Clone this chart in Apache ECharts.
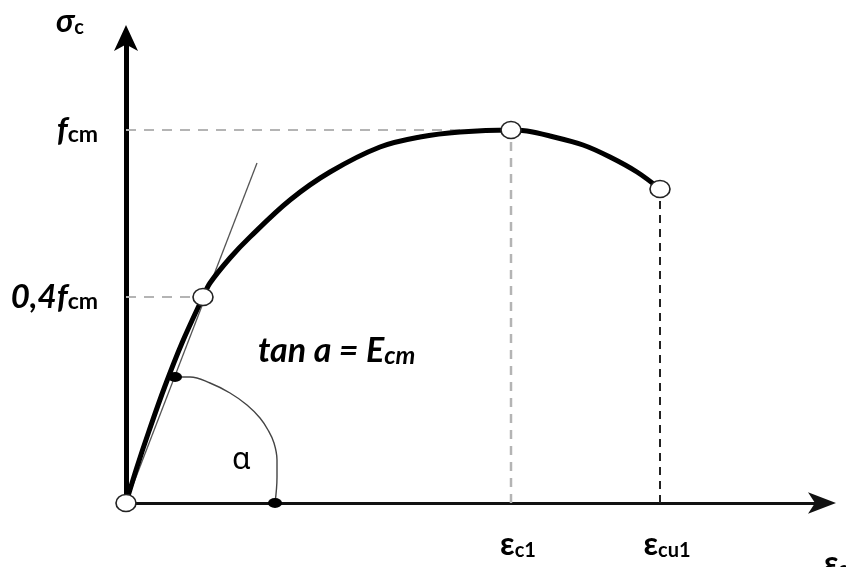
<!DOCTYPE html>
<html>
<head>
<meta charset="utf-8">
<script src="https://cdn.jsdelivr.net/npm/echarts@6/dist/echarts.min.js"></script>
<style>
  html, body { margin: 0; padding: 0; background: #fff; }
  #chart { width: 846px; height: 567px; }
</style>
</head>
<body>
<div id="chart"></div>
<script>
// Concrete stress–strain diagram (drawing units: strain on x, stress on y)
const curveStrain = [0, 0.11, 0.23, 0.39, 0.56, 0.77, 0.84, 1.04, 1.24, 1.64, 2.04, 2.54, 2.94, 3.34, 3.85, 4.01, 4.24, 4.57, 4.84, 5.11, 5.34];
const curveStress = [0, 0.36, 0.72, 1.17, 1.60, 2.06, 2.20, 2.45, 2.66, 3.03, 3.31, 3.56, 3.66, 3.71, 3.73, 3.72, 3.67, 3.58, 3.46, 3.31, 3.14];

// Characteristic points: origin, 0,4 f_cm, peak (eps_c1, f_cm), ultimate (eps_cu1)
const keyStrain = [0, 0.77, 3.85, 5.34];
const keyStress = [0, 2.06, 3.73, 3.14];

// Secant line whose slope is E_cm
const secantStrain = [0, 1.31];
const secantStress = [0, 3.40];

// Arc marking the angle alpha between secant and strain axis
const arcStrain = [0.49, 0.64, 0.84, 1.04, 1.21, 1.34, 1.42, 1.48, 1.51, 1.51, 1.49];
const arcStress = [1.26, 1.26, 1.20, 1.10, 0.98, 0.85, 0.73, 0.60, 0.43, 0.26, 0];

// Axis tick labels
const xTickValues = [3.85, 5.34];
const xTickLabels = ['{e|ε}{s|c1}', '{e|ε}{s|cu1}'];
const yTickValues = [2.06, 3.73];
const yTickLabels = ['{f|0,4f}{s|cm}', '{f|f}{s|cm}'];

const pairs = (xs, ys) => xs.map((x, i) => [x, ys[i]]);

const labelFont = 'Lato, "Open Sans", sans-serif';
const gray = '#b4b4b4';

const chart = echarts.init(document.getElementById('chart'), null, { renderer: 'canvas' });

const peak = [keyStrain[2], keyStress[2]];
const quarter = [keyStrain[1], keyStress[1]];
const ult = [keyStrain[3], keyStress[3]];

chart.setOption({
  animation: false,
  backgroundColor: '#fff',
  grid: { left: 126, right: 24, top: 38, bottom: 64 },
  xAxis: {
    type: 'value', min: 0, max: 6.96,
    splitLine: { show: false },
    axisTick: { show: false },
    axisLine: {
      show: true,
      symbol: ['none', 'arrow'],
      symbolSize: [16, 28],
      symbolOffset: [0, 14],
      lineStyle: { color: '#111', width: 3 }
    },
    axisLabel: {
      customValues: xTickValues,
      margin: 26,
      padding: [0, 0, 0, 14],
      formatter: v => xTickLabels[xTickValues.indexOf(v)],
      rich: {
        e: { fontFamily: labelFont, fontWeight: 'bold', fontSize: 32, color: '#000', verticalAlign: 'bottom' },
        s: { fontFamily: labelFont, fontWeight: 'bold', fontSize: 20, color: '#000', verticalAlign: 'bottom' }
      }
    }
  },
  yAxis: {
    type: 'value', min: 0, max: 4.65,
    splitLine: { show: false },
    axisTick: { show: false },
    axisLine: {
      show: true,
      symbol: ['none', 'arrow'],
      symbolSize: [18, 26],
      symbolOffset: [0, 13],
      lineStyle: { color: '#000', width: 5 }
    },
    axisLabel: {
      customValues: yTickValues,
      margin: 28,
      formatter: v => yTickLabels[yTickValues.indexOf(v)],
      rich: {
        f: { fontFamily: labelFont, fontWeight: 'bold', fontStyle: 'italic', fontSize: 33, color: '#000', verticalAlign: 'bottom' },
        s: { fontFamily: labelFont, fontWeight: 'bold', fontSize: 23, color: '#000', verticalAlign: 'bottom' }
      }
    }
  },
  series: [
    // guide lines to the axes
    { type: 'line', data: [[0, peak[1]], peak], symbol: 'none', silent: true,
      lineStyle: { color: gray, width: 2, type: [10, 8] }, z: 1 },
    { type: 'line', data: [[0, quarter[1]], quarter], symbol: 'none', silent: true,
      lineStyle: { color: gray, width: 2, type: [10, 8] }, z: 1 },
    { type: 'line', data: [[peak[0], 0], peak], symbol: 'none', silent: true,
      lineStyle: { color: gray, width: 2.5, type: [9, 7] }, z: 1 },
    { type: 'line', data: [[ult[0], 0], ult], symbol: 'none', silent: true,
      lineStyle: { color: '#222', width: 2, type: [8, 6] }, z: 1 },
    // secant line (E_cm)
    { type: 'line', data: pairs(secantStrain, secantStress), symbol: 'none', silent: true,
      lineStyle: { color: '#555', width: 1.3 }, z: 2 },
    // angle arc
    { type: 'line', data: pairs(arcStrain, arcStress), symbol: 'none', smooth: 0.4, silent: true,
      lineStyle: { color: '#444', width: 1.4 }, z: 2 },
    // stress–strain curve
    { type: 'line', data: pairs(curveStrain, curveStress), symbol: 'none', smooth: 0.35, silent: true,
      lineStyle: { color: '#000', width: 5 }, z: 3 },
    // arc end dots
    { type: 'scatter', data: [[arcStrain[0], arcStress[0]], [arcStrain[arcStrain.length - 1], arcStress[arcStress.length - 1]]],
      symbol: 'circle', symbolSize: [14, 10], silent: true,
      itemStyle: { color: '#000', opacity: 1 }, z: 4 },
    // open characteristic points
    { type: 'scatter', data: pairs(keyStrain, keyStress), symbol: 'circle', symbolSize: [20, 17], silent: true,
      itemStyle: { color: '#fff', borderColor: '#222', borderWidth: 1.5, opacity: 1 }, z: 5 }
  ],
  graphic: [
    { type: 'text', left: 56, top: 6, z: 10,
      style: { text: '{a|σ}{b|c}',
        rich: {
          a: { fontFamily: labelFont, fontWeight: 'bold', fontStyle: 'italic', fontSize: 32, fill: '#000', verticalAlign: 'bottom' },
          b: { fontFamily: labelFont, fontWeight: 'bold', fontSize: 20, fill: '#000', verticalAlign: 'bottom' }
        } } },
    { type: 'text', left: 258, top: 334, z: 10,
      style: { text: '{a|tan a = E}{b|cm}',
        rich: {
          a: { fontFamily: labelFont, fontWeight: 'bold', fontStyle: 'italic', fontSize: 34, fill: '#000', verticalAlign: 'bottom' },
          b: { fontFamily: labelFont, fontWeight: 'bold', fontStyle: 'italic', fontSize: 25, fill: '#000', verticalAlign: 'bottom' }
        } } },
    { type: 'text', left: 232, top: 445, z: 10,
      style: { text: 'α', fontFamily: '"Noto Sans", sans-serif', fontSize: 30, fill: '#000' } },
    { type: 'text', left: 824, top: 548, z: 10,
      style: { text: '{a|ε}{b|c}',
        rich: {
          a: { fontFamily: labelFont, fontWeight: 'bold', fontSize: 32, fill: '#000', verticalAlign: 'bottom' },
          b: { fontFamily: labelFont, fontWeight: 'bold', fontSize: 20, fill: '#000', verticalAlign: 'bottom' }
        } } }
  ]
});
</script>
</body>
</html>
